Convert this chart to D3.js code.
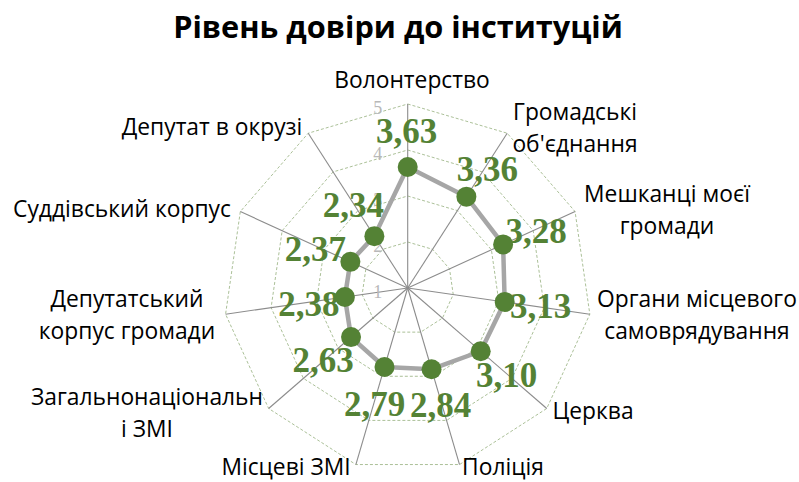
<!DOCTYPE html>
<html><head><meta charset="utf-8">
<script src="https://cdn.jsdelivr.net/npm/d3@7"></script>
<style>body{margin:0;background:#fff}svg{display:block}</style>
</head><body>
<svg id="c" width="799" height="482"></svg>
<script>
const title = "Рівень довіри до інституцій";
const categories = [
  ["Волонтерство"],
  ["Громадські", "об'єднання"],
  ["Мешканці моєї", "громади"],
  ["Органи місцевого", "самоврядування"],
  ["Церква"],
  ["Поліція"],
  ["Місцеві ЗМІ"],
  ["Загальнонаціональн", "і ЗМІ"],
  ["Депутатський", "корпус громади"],
  ["Суддівський корпус"],
  ["Депутат в окрузі"]
];
const values = [3.63, 3.36, 3.28, 3.13, 3.10, 2.84, 2.79, 2.63, 2.38, 2.37, 2.34];
const valueLabels = ["3,63","3,36","3,28","3,13","3,10","2,84","2,79","2,63","2,38","2,37","2,34"];
const ticks = [1, 2, 3, 4, 5];

// layout (not data)
const cx = 407.7, cy = 288, R = 184;
const labelOffsets = [[-1,-24],[21,-16],[33,-1],[36,16],[26,36],[9,48],[-10,49],[-28,35],[-36,19],[-35,-1],[-21,-19]];
const catPos = [[412,88],[575,120],[667,202],[697,307],[593,419],[503,475],[286,475],[147,405],[127,307],[122,217],[212,135]];

const svg = d3.select("#c");
const n = categories.length;
const r = d3.scaleLinear().domain([1, 5]).range([0, R]);
const ang = d3.scaleLinear().domain([0, n]).range([0, 2 * Math.PI]);
const px = (i, v) => cx + r(v) * Math.sin(ang(i));
const py = (i, v) => cy - r(v) * Math.cos(ang(i));

svg.append("text").attr("x", 398).attr("y", 38).attr("text-anchor", "middle")
  .attr("font-family", "Open Sans").attr("font-weight", "bold").attr("font-size", 30.7)
  .attr("fill", "#000").text(title);

// rings
const idx = d3.range(n);
svg.append("g").selectAll("polygon").data(ticks.slice(1)).join("polygon")
  .attr("points", t => idx.map(i => [px(i, t), py(i, t)].join(",")).join(" "))
  .attr("fill", "none").attr("stroke", "#95b07d").attr("stroke-width", 0.8)
  .attr("stroke-dasharray", "3,2");

// spokes
svg.append("g").selectAll("line").data(idx).join("line")
  .attr("x1", cx).attr("y1", cy)
  .attr("x2", i => px(i, 5)).attr("y2", i => py(i, 5))
  .attr("stroke", "#8c8c8c").attr("stroke-width", 1.1);

// tick labels
svg.append("g").selectAll("text").data(ticks).join("text")
  .attr("x", cx - 30).attr("y", t => cy - r(t) + 10)
  .attr("text-anchor", "middle").attr("font-family", "Liberation Serif").attr("font-size", 18)
  .attr("fill", "#b8b8b8").text(t => t);

// series line
const line = d3.line().x((d, i) => px(i, d)).y((d, i) => py(i, d)).curve(d3.curveLinearClosed);
svg.append("path").datum(values).attr("d", line)
  .attr("fill", "none").attr("stroke", "#a6a6a6").attr("stroke-width", 4.5).attr("stroke-linejoin", "round");

// markers
svg.append("g").selectAll("circle").data(values).join("circle")
  .attr("cx", (d, i) => px(i, d)).attr("cy", (d, i) => py(i, d)).attr("r", 10)
  .attr("fill", "#548235");

// value labels
svg.append("g").selectAll("text").data(values).join("text")
  .attr("x", (d, i) => px(i, d) + labelOffsets[i][0])
  .attr("y", (d, i) => py(i, d) + labelOffsets[i][1])
  .attr("text-anchor", "middle").attr("font-family", "Liberation Serif").attr("font-weight", "bold")
  .attr("font-size", 35).attr("fill", "#548235").text((d, i) => valueLabels[i]);

// category labels
const cg = svg.append("g").attr("font-family", "Open Sans").attr("font-size", 22.8).attr("fill", "#000");
categories.forEach((lines, i) => {
  const t = cg.append("text").attr("text-anchor", "middle");
  lines.forEach((s, k) => t.append("tspan").attr("x", catPos[i][0]).attr("y", catPos[i][1] + k * 31.5).text(s));
});
</script>
</body></html>
